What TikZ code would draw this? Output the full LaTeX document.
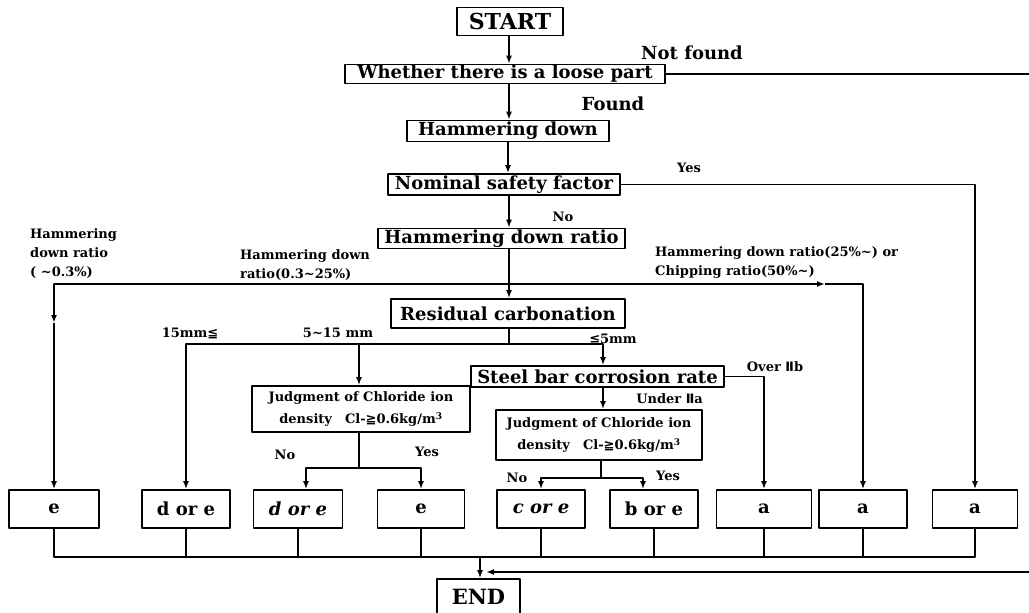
\documentclass[tikz,border=0pt]{standalone}
\usepackage{fontspec}
\setmainfont{DejaVu Serif}
\newfontfamily\symfont{DejaVu Sans}
\usetikzlibrary{arrows.meta}
\newcommand{\geqsym}{{\symfont ≧}}
\newcommand{\leqsym}{{\symfont ≦}}
\newcommand{\romtwo}{{\symfont Ⅱ}}

\begin{document}
\begin{tikzpicture}[line join=round, x=1pt, y=-1pt, >={Latex[length=8pt,width=6pt]}]
    \tikzset{
        box/.style={draw, line width=1.6pt, inner sep=0pt, font=\bfseries\fontsize{18}{18}\selectfont},
        judge/.style={box, align=center, font=\bfseries\fontsize{13}{22}\selectfont},
        leaf/.style={box, minimum height=38, font=\bfseries\fontsize{18}{18}\selectfont},
        tag/.style={inner sep=0pt, font=\bfseries\fontsize{13}{19}\selectfont, align=left},
        yn/.style={inner sep=0pt, font=\bfseries\fontsize{13}{13}\selectfont},
        bigtag/.style={inner sep=0pt, font=\bfseries\fontsize{18}{18}\selectfont},
        link/.style={line width=1.6pt},
    }
    \useasboundingbox (0,0) rectangle (1029,613);
    % main column
    \node[box, minimum width=106, minimum height=28, font=\bfseries\fontsize{22}{22}\selectfont] (start) at (510,21.5) {START};
    \node[box, minimum width=320, minimum height=19] (loose) at (505,74) {Whether there is a loose part};
    \node[box, minimum width=202, minimum height=21] (hammer) at (508,131) {Hammering down};
    \node[box, minimum width=232, minimum height=21] (nominal) at (504,184.5) {Nominal safety factor};
    \node[box, minimum width=247, minimum height=20] (ratio) at (501.5,238.5) {Hammering down ratio};
    \node[box, minimum width=234, minimum height=29] (resid) at (508,313.5) {Residual carbonation};
    \node[box, minimum width=253, minimum height=21] (steel) at (597.5,376.5) {Steel bar corrosion rate};
    \node[judge, minimum width=218, minimum height=46] (judgeA) at (361,409) {Judgment of Chloride ion\\density\quad Cl-\geqsym0.6kg/m\textsuperscript{3}};
    \node[judge, minimum width=206, minimum height=50] (judgeB) at (599,435) {Judgment of Chloride ion\\density\quad Cl-\geqsym0.6kg/m\textsuperscript{3}};
    % results
    \foreach \nm/\x/\w/\txt in {r1/54/90/e, r2/186/88/d or e, r3/298/89/\itshape d or e, r4/421/87/e,
        r5/541/88/\itshape c or e, r6/654/88/b or e, r7/764/95/a, r8/863/88/a, r9/975/85/a}
        \node[leaf, minimum width=\w] (\nm) at (\x,509) {\txt};
    \node[box, minimum width=83, minimum height=36, font=\bfseries\fontsize{21}{21}\selectfont] (finish) at (478.5,597) {END};

    % labels
    \node[bigtag] (notfound) at (692,53) {Not found};
    \node[bigtag] (found) at (613,104) {Found};
    \node[yn] (yesA) at (689,168) {Yes};
    \node[yn] (noA) at (563,217) {No};
    \node[tag, anchor=west] (lowband) at (30,254) {Hammering\\down ratio\\( \textasciitilde0.3\%)};
    \node[tag, anchor=south west] (midband) at (240,281) {Hammering down\\ratio(0.3\textasciitilde25\%)};
    \node[tag, anchor=south west] (highband) at (655,279) {Hammering down ratio(25\%\textasciitilde) or\\Chipping ratio(50\%\textasciitilde)};
    \node[tag] (deep) at (190,333) {15mm\leqsym};
    \node[tag] (middepth) at (338,333) {5\textasciitilde15 mm};
    \node[tag] (shallow) at (613,339) {\leqsym5mm};
    \node[tag] (overIIb) at (775,367) {Over \romtwo b};
    \node[tag, anchor=east] (underIIa) at (703,399) {Under \romtwo a};
    \node[yn] (noB) at (285,455) {No};
    \node[yn] (yesB) at (427,452) {Yes};
    \node[yn] (noC) at (517,478) {No};
    \node[yn] (yesC) at (668,476) {Yes};

    % spine
    \draw[link,->] (start.south -| 509,0) -- (loose.north -| 509,0);
    \draw[link,->] (loose.south -| 509,0) -- (hammer.north -| 509,0);
    \draw[link,->] (hammer.south -| 508,0) -- (nominal.north -| 508,0);
    \draw[link,->] (nominal.south -| 509,0) -- (ratio.north -| 509,0);
    \draw[link,->] (ratio.south -| 509,0) -- (resid.north -| 509,0);
    \coordinate (offR) at (1040,572);
    \coordinate (backin) at (486,572);
    \draw[link,->] (loose.east) -| (offR) -- (backin);
    \draw[link,->] (nominal.east) -| (r9.north);
    % ratio bands
    \coordinate (fork) at (509,284);
    \coordinate (bandL) at (54,323);
    \coordinate (bandR) at (825,284);
    \draw[link,->] (fork) -| (bandL);
    \draw[link,->] (bandL) -- (r1.north);
    \draw[link,->] (fork) -- (bandR);
    \draw[link,->] (bandR) -| (r8.north);
    % carbonation depth
    \coordinate (cut) at (509,344);
    \draw[link] (resid.south -| cut) -- (cut);
    \draw[link,->] (cut) -| (r2.north);
    \draw[link,->] (cut) -| (judgeA.north -| 359,0);
    \draw[link,->] (cut) -| (steel.north -| 603,0);
    \draw[link,->] (steel.south -| 603,0) -- (judgeB.north -| 603,0);
    \draw[link,->] (steel.east) -| (r7.north);
    % chloride
    \coordinate (ja) at (359,468);
    \draw[link] (judgeA.south -| ja) -- (ja);
    \draw[link,->] (ja) -| (r3.north -| 306,0);
    \draw[link,->] (ja) -| (r4.north);
    \coordinate (jb) at (601,478);
    \draw[link] (judgeB.south -| jb) -- (jb);
    \draw[link,->] (jb) -| (r5.north);
    \draw[link,->] (jb) -| (r6.north -| 643,0);
    % to END
    \draw[link] (r1.south) -- ++(0,28) -| (r9.south);
    \foreach \n in {2,...,8}
        \draw[link] (r\n.south) -- ++(0,28);
    \coordinate (bus) at (480,556);
    \draw[link,->] (bus) -- (finish.north -| bus);
\end{tikzpicture}
\end{document}
